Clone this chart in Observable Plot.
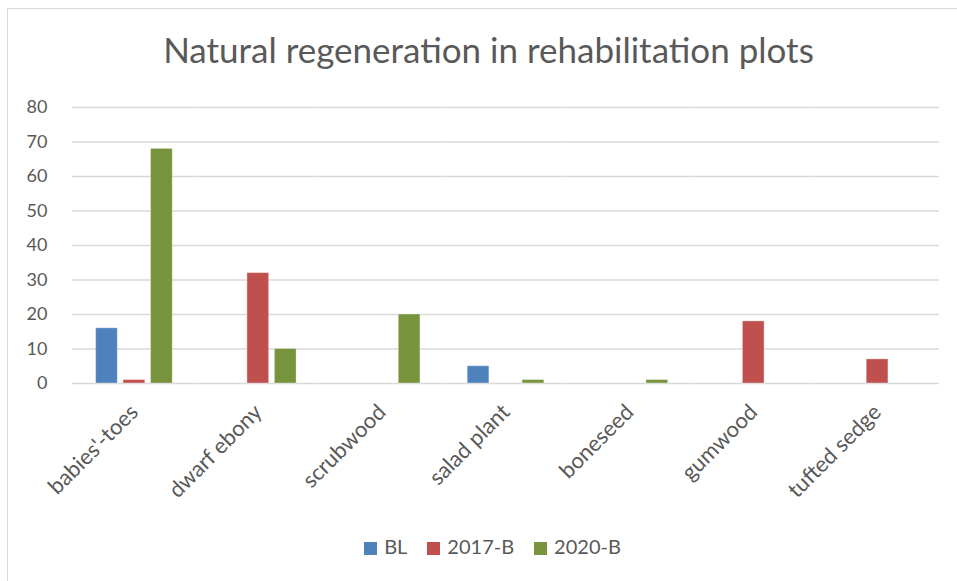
<!DOCTYPE html>
<html>
<head>
<meta charset="utf-8">
<script src="https://cdn.jsdelivr.net/npm/d3@7"></script>
<script src="https://cdn.jsdelivr.net/npm/@observablehq/plot@0.6"></script>
<style>
  body { margin: 0; background: #fff; font-family: Lato, "Open Sans", sans-serif; }
  #wrap { position: relative; width: 957px; height: 581px; overflow: hidden; background: #fff; }
  #frame { position: absolute; left: 7px; top: 8px; width: 970px; height: 600px; border: 1.5px solid #d9d9d9; box-sizing: border-box; }
  #title { position: absolute; left: 0; width: 977px; top: 28px; text-align: center; font-size: 35px; color: #595959; white-space: nowrap; }
  #chart { position: absolute; left: 0; top: 90px; }
  #legend { position: absolute; left: 0; width: 985px; top: 534px; text-align: center; font-size: 20px; color: #595959; }
  #legend span.item { margin: 0 10px; white-space: nowrap; }
  #legend span.sw { display: inline-block; width: 13px; height: 13px; margin-right: 7px; vertical-align: -1px; }
</style>
</head>
<body>
<div id="wrap">
  <div id="frame"></div>
  <div id="title">Natural regeneration in rehabilitation plots</div>
  <div id="chart"></div>
  <div id="legend"></div>
</div>
<script>
const categories = ["babies'-toes", "dwarf ebony", "scrubwood", "salad plant", "boneseed", "gumwood", "tufted sedge"];
const seriesNames = ["BL", "2017-B", "2020-B"];
const seriesColors = ["#4F81BD", "#C0504D", "#77933C"];
const valuesBL    = [16, 0, 0, 5, 0, 0, 0];
const values2017B = [1, 32, 0, 0, 0, 18, 7];
const values2020B = [68, 10, 20, 1, 1, 0, 0];
const yTicks = [0, 10, 20, 30, 40, 50, 60, 70, 80];

const seriesValues = [valuesBL, values2017B, values2020B];
const data = [];
categories.forEach((c, i) => {
  seriesNames.forEach((s, j) => {
    data.push({category: c, series: s, value: seriesValues[j][i]});
  });
});

const chart = Plot.plot({
  width: 957,
  height: 430,
  marginTop: 17,
  marginBottom: 137,
  marginLeft: 72,
  marginRight: 18,
  style: { fontFamily: "Lato, 'Open Sans', sans-serif", color: "#595959", background: "transparent", overflow: "visible" },
  fx: { domain: categories, padding: 0, round: false, label: null, axis: null },
  x: { domain: seriesNames, paddingInner: 0.21, paddingOuter: 0.86, round: false, axis: null },
  y: { domain: [0, 80], label: null },
  color: { domain: seriesNames, range: seriesColors },
  marks: [
    Plot.ruleY(yTicks, { stroke: "#d9d9d9", strokeWidth: 1.5 }),
    Plot.barY(data.filter(d => d.value > 0), {
      fx: "category", x: "series", y: "value", fill: "series",
      stroke: "#ffffff", strokeOpacity: 0.35, strokeWidth: 1
    }),
    Plot.axisY(yTicks, { tickSize: 0, tickPadding: 25, fontSize: 18, fill: "#595959", label: null }),
    Plot.axisFx({ anchor: "bottom", tickSize: 0, tickRotate: -45, tickPadding: 25, fontSize: 22, fill: "#595959", label: null })
  ]
});
document.getElementById("chart").appendChild(chart);

const legend = document.getElementById("legend");
seriesNames.forEach((s, j) => {
  const item = document.createElement("span");
  item.className = "item";
  const sw = document.createElement("span");
  sw.className = "sw";
  sw.style.background = seriesColors[j];
  item.appendChild(sw);
  item.appendChild(document.createTextNode(s));
  legend.appendChild(item);
});
</script>
</body>
</html>
